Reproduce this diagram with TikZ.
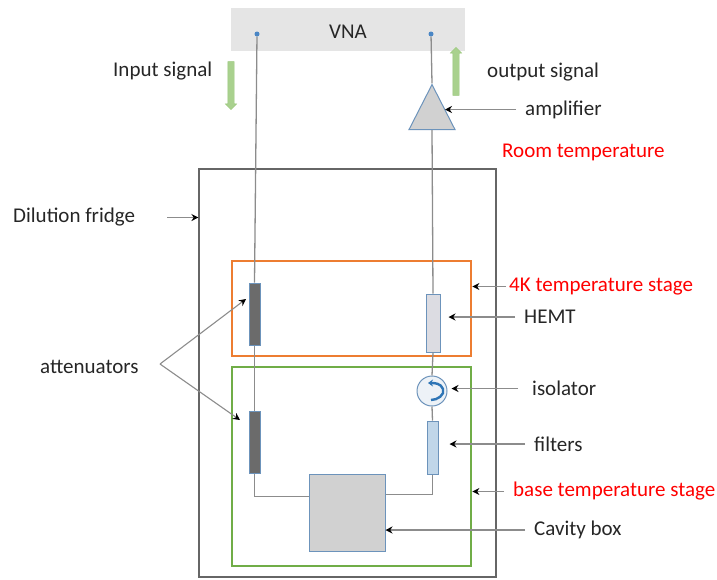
\documentclass[tikz,border=0pt]{standalone}
\usepackage{fontspec}
\setmainfont{Carlito}
\usetikzlibrary{shapes.geometric,shapes.arrows,arrows.meta}
\definecolor{wiregray}{HTML}{8C8C8C}
\definecolor{partblue}{HTML}{6C93BB}
\definecolor{portblue}{HTML}{4A86C5}
\definecolor{isoblue}{HTML}{2E75B6}
\definecolor{stageorange}{HTML}{ED7D31}
\definecolor{stagegreen}{HTML}{70AD47}
\definecolor{flowgreen}{HTML}{A9D18E}
\definecolor{darktxt}{HTML}{262626}

\begin{document}
\begin{tikzpicture}[x=1pt,y=-1pt,
  txt/.style={inner sep=0pt,text=darktxt,anchor=west,yshift=-1.5pt,font=\fontsize{21}{23}\selectfont},
  redtxt/.style={txt,text=red},
  wire/.style={draw=wiregray,line width=1.3pt},
  ptr/.style={draw=wiregray,line width=1.1pt,-{Stealth[black,length=7pt,width=7pt]}},
  stage/.style={draw,line width=2.8pt,minimum width=239pt,inner sep=0pt},
  part/.style={draw=partblue,line width=1pt,inner sep=0pt},
  port/.style={circle,fill=portblue,inner sep=0pt,minimum size=5pt},
  flow/.style={single arrow,draw=flowgreen!70!stagegreen,fill=flowgreen,inner sep=0pt,
    minimum width=11pt,minimum height=48pt,single arrow head extend=2.5pt,single arrow head indent=0pt}]
\useasboundingbox (0,0) rectangle (717,579);

\node[fill=black!10,minimum width=234pt,minimum height=43pt,inner sep=0pt] (vna) at (348,29.5) {};
\node[txt,anchor=center] (vnatxt) at (348,30) {VNA};
\node[port] (pl) at (257,34) {};
\node[port] (pr) at (431,34) {};

\node[draw=black!60,line width=1.1pt,minimum width=297pt,minimum height=408pt,inner sep=0pt] (fridge) at (347.5,373) {};
\node[stage,draw=stageorange,minimum height=95pt] (stage4k) at (351.5,308.5) {};
\node[stage,draw=stagegreen,minimum height=199pt] (stagebase) at (351.5,466.5) {};

\node[part,fill=black!58,minimum width=11pt,minimum height=62pt] (att1) at (254.5,314) {};
\node[part,fill=black!58,minimum width=11pt,minimum height=62pt] (att2) at (254.5,442) {};
\node[part,fill=blue!10!gray!25,minimum width=14pt,minimum height=58pt] (hemt) at (433,323) {};
\node[part,fill=isoblue!30,minimum width=11pt,minimum height=53pt] (filt) at (432.5,447.5) {};
\node[part,fill=black!18,minimum width=76pt,minimum height=77pt] (cavity) at (347,512.5) {};
\node[part,fill=partblue!12,circle,minimum size=30pt] (iso) at (432,391) {};
\draw[isoblue,line width=2.4pt,-{Stealth[length=5pt,width=7pt]}] (431,400) to[out=0,in=-70] (443,389) to[out=110,in=0] (428,383);
\node[part,fill=black!18,isosceles triangle,isosceles triangle stretches,shape border rotate=90,
  minimum width=46pt,minimum height=45pt] (amp) at (432,115.5) {};

\draw[wire] (pl)--(att1.north);
\draw[wire] (att1.south)--(att2.north);
\draw[wire] (att2.south) |- ([yshift=16pt]cavity.west);
\draw[wire] (pr)--(amp.apex);
\draw[wire] (amp.south)--(hemt.north);
\draw[wire] (hemt.south)--(iso.north);
\draw[wire] (iso.south)--(filt.north);
\draw[wire] (filt.south) |- ([yshift=18pt]cavity.east);

\node[flow,shape border rotate=270] (flowin) at (231,84) {\rule{6pt}{0pt}};
\node[flow,shape border rotate=90] (flowout) at (456,73) {\rule{6pt}{0pt}};

\node[txt] (intxt) at (113,70) {Input signal};
\node[txt] (outtxt) at (487,71) {output signal};
\node[txt] (amptxt) at (525,108) {amplifier};
\node[redtxt] (roomtxt) at (502,151) {Room temperature};
\node[txt] (fridgetxt) at (13,216) {Dilution fridge};
\node[redtxt] (stage4ktxt) at (509,285) {4K temperature stage};
\node[txt] (hemttxt) at (524,315.5) {HEMT};
\node[txt] (isotxt) at (532,387) {isolator};
\node[txt] (filttxt) at (534,442.5) {filters};
\node[redtxt] (basetxt) at (513,490) {base temperature stage};
\node[txt] (cavitytxt) at (534,528.5) {Cavity box};
\node[txt] (atttxt) at (40,365) {attenuators};

\coordinate (tipamp) at (445,107);
\coordinate (attfork) at (160,364);
\coordinate (tipatt1) at (246,299);
\coordinate (tipatt2) at (240,420);
\draw[ptr] ([xshift=-9pt]amptxt.west)--(tipamp |- amptxt.west);
\draw[ptr] ([xshift=32pt]fridgetxt.east)--(fridge.west |- fridgetxt.east);
\draw[ptr] ([xshift=-3pt]stage4ktxt.west)--(stage4k.east |- stage4ktxt.west);
\draw[ptr] ([xshift=-9pt]hemttxt.west)--([xshift=8pt]hemt.east |- hemttxt.west);
\draw[ptr] ([xshift=-14pt]isotxt.west)--([xshift=4pt]iso.east |- isotxt.west);
\draw[ptr] ([xshift=-9pt]filttxt.west)--([xshift=11pt]filt.east |- filttxt.west);
\draw[ptr] ([xshift=-9pt]basetxt.west)--(stagebase.east |- basetxt.west);
\draw[ptr] ([xshift=-9pt]cavitytxt.west)--(cavity.east |- cavitytxt.west);
\draw[ptr] (attfork)--(tipatt1);
\draw[ptr] (attfork)--(tipatt2);
\end{tikzpicture}
\end{document}
